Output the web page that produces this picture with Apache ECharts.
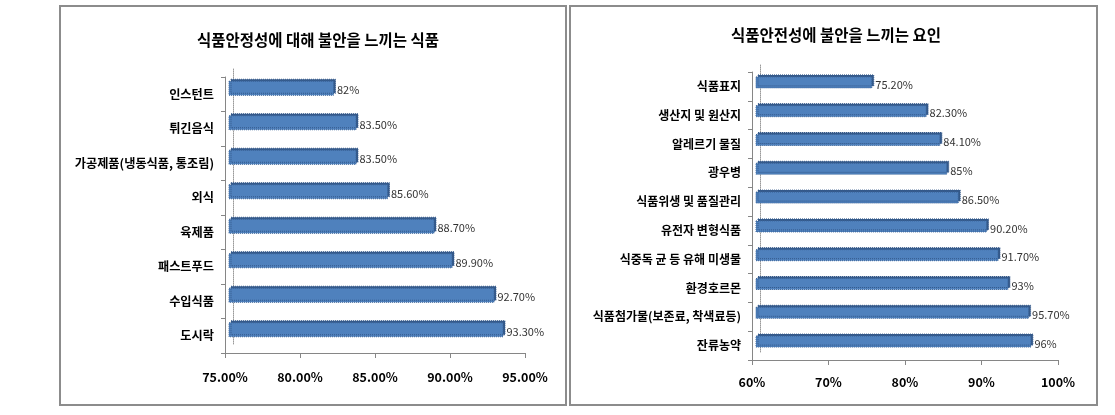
<!DOCTYPE html>
<html><head><meta charset="utf-8">
<script src="https://cdn.jsdelivr.net/npm/echarts@6/dist/echarts.min.js"></script>
<style>html,body{margin:0;padding:0;background:#fff}#c{width:1115px;height:415px}</style>
</head><body><div id="c"></div>
<script>
// ---- data ----
const leftTitle = '식품안정성에 대해 불안을 느끼는 식품';
const leftCategories = ['인스턴트','튀긴음식','가공제품(냉동식품, 통조림)','외식','육제품','패스트푸드','수입식품','도시락'];
const leftValues = [82, 83.5, 83.5, 85.6, 88.7, 89.9, 92.7, 93.3];
const leftAxis = [75, 95, 5];

const rightTitle = '식품안전성에 불안을 느끼는 요인';
const rightCategories = ['식품표지','생산지 및 원산지','알레르기 물질','광우병','식품위생 및 품질관리','유전자 변형식품','식중독 균 등 유해 미생물','환경호르몬','식품첨가물(보존료, 착색료등)','잔류농약'];
const rightValues = [75.2, 82.3, 84.1, 85, 86.5, 90.2, 91.7, 93, 95.7, 96];
const rightAxis = [60, 100, 10];

// ---- styling ----
const NARROW = '"Liberation Sans Narrow","Noto Sans CJK KR",sans-serif';
const KR = '"Noto Sans CJK KR",sans-serif';
const AX = '#868686';
const valFmt = v => (Number.isInteger(v) ? v : v.toFixed(2)) + '%';

function panel(idx0, g, cats, vals, ax, tickFmt, labelSize, barW, tickMargin) {
  const [min, max, interval] = ax;
  const grids = [
    {left: g.x, top: g.y, width: g.w, height: g.h},
    {left: g.x + g.dx, top: g.y - g.dy, width: g.w, height: g.h},
    {left: g.x + g.wx, top: g.y - g.wy, width: g.w, height: g.h}
  ];
  const xAxes = [
    {gridIndex: idx0, type: 'value', min, max, interval,
     axisLine: {show: true, lineStyle: {color: AX, width: 1}},
     axisTick: {show: true, length: 5, lineStyle: {color: AX}},
     splitLine: {show: false},
     axisLabel: {formatter: tickFmt, fontFamily: NARROW, fontWeight: 'bold', fontSize: 12.5, color: '#000', margin: tickMargin}},
    {gridIndex: idx0 + 1, type: 'value', min, max, interval, show: false, splitLine: {show: false}},
    {gridIndex: idx0 + 2, type: 'value', min, max, interval, show: false, splitLine: {show: false}}
  ];
  const yAxes = [
    {gridIndex: idx0, type: 'category', inverse: true, data: cats,
     axisLine: {show: true, lineStyle: {color: AX}},
     axisTick: {show: true, length: 4, lineStyle: {color: AX}},
     axisLabel: {fontFamily: KR, fontWeight: 'bold', fontSize: labelSize, color: '#000', margin: 11}},
    {gridIndex: idx0 + 1, type: 'category', inverse: true, data: cats, show: false},
    {gridIndex: idx0 + 2, type: 'category', inverse: true, data: cats,
     axisLine: {show: true, lineStyle: {color: '#9a9a9a', type: 'dotted'}},
     axisTick: {show: false}, axisLabel: {show: false}}
  ];
  const series = [{
    type: 'bar', xAxisIndex: idx0 + 1, yAxisIndex: idx0 + 1, data: vals, barWidth: barW,
    itemStyle: {color: '#4F81BD', borderColor: '#3A6499', borderWidth: 1, borderType: 'dotted',
      shadowColor: '#34598a', shadowOffsetX: 2, shadowOffsetY: -2, shadowBlur: 0},
    label: {show: true, position: 'right', distance: 3, offset: [0, 2], formatter: p => valFmt(p.value),
      fontFamily: NARROW, fontSize: 11, color: '#333'},
    emphasis: {disabled: true}, animation: false
  }];
  return {grids, xAxes, yAxes, series};
}

const L = panel(0, {x: 225, y: 77, w: 300, h: 276, dx: 4, dy: 6, wx: 8, wy: 8},
  leftCategories, leftValues, leftAxis, v => v.toFixed(2) + '%', 12.2, 15, 18);
const R = panel(3, {x: 752, y: 72, w: 306, h: 288, dx: 4, dy: 4, wx: 8, wy: 7},
  rightCategories, rightValues, rightAxis, v => v + '%', 12, 12, 16);

const chart = echarts.init(document.getElementById('c'));
chart.setOption({
  animation: false,
  backgroundColor: '#fff',
  title: [
    {text: leftTitle, left: 313, top: 27, textAlign: 'center',
     textStyle: {fontFamily: KR, fontWeight: 'bold', fontSize: 15.5, color: '#000'}},
    {text: rightTitle, left: 831, top: 22, textAlign: 'center',
     textStyle: {fontFamily: KR, fontWeight: 'bold', fontSize: 15.5, color: '#000'}}
  ],
  graphic: [
    {type: 'rect', shape: {x: 60, y: 6, width: 506, height: 399}, style: {fill: 'none', stroke: '#8c8c8c', lineWidth: 2}, z: -1},
    {type: 'rect', shape: {x: 570, y: 6, width: 527, height: 399}, style: {fill: 'none', stroke: '#8c8c8c', lineWidth: 2}, z: -1}
  ],
  grid: [...L.grids, ...R.grids],
  xAxis: [...L.xAxes, ...R.xAxes],
  yAxis: [...L.yAxes, ...R.yAxes],
  series: [...L.series, ...R.series]
});
</script></body></html>
